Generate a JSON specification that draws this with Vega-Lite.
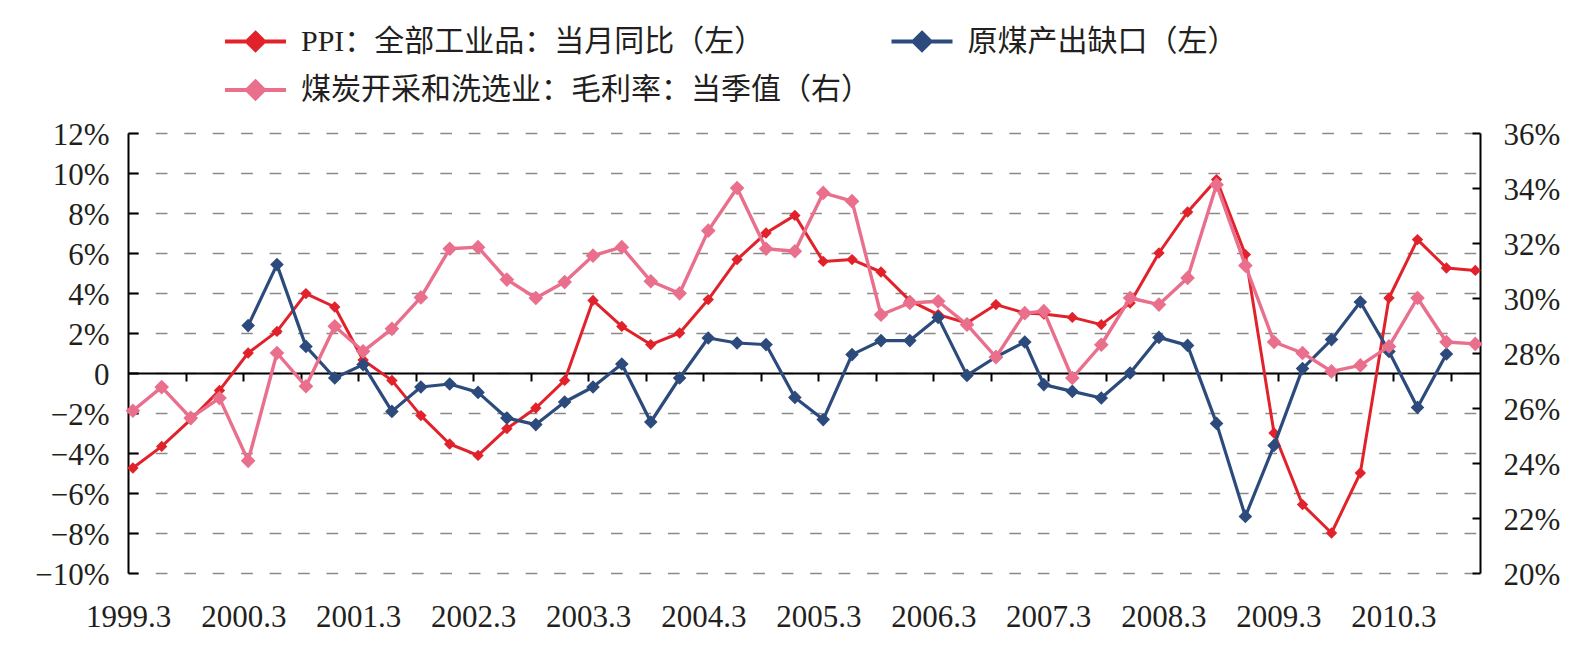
{
  "$schema": "https://vega.github.io/schema/vega-lite/v6.json",
  "width": 1352,
  "height": 440,
  "autosize": {"type": "none"},
  "padding": {"left": 128, "top": 133, "right": 106, "bottom": 78},
  "background": "white",
  "config": {
    "view": {"stroke": null},
    "font": "Liberation Serif",
    "axis": {"labelFont": "Liberation Serif", "labelFontSize": 31, "labelColor": "#231f20", "title": null, "labelOverlap": false}
  },
  "data": {
    "values": [
      {"date": "1999-03", "ppi": -0.0475, "margin": 0.2590},
      {"date": "1999-06", "ppi": -0.0367, "margin": 0.2676},
      {"date": "1999-09", "ppi": -0.0233, "margin": 0.2564},
      {"date": "1999-12", "ppi": -0.0087, "margin": 0.2636},
      {"date": "2000-03", "ppi": 0.0100, "gap": 0.0237, "margin": 0.2408},
      {"date": "2000-06", "ppi": 0.0208, "gap": 0.0542, "margin": 0.2800},
      {"date": "2000-09", "ppi": 0.0397, "gap": 0.0133, "margin": 0.2679},
      {"date": "2000-12", "ppi": 0.0330, "gap": -0.0025, "margin": 0.2897},
      {"date": "2001-03", "ppi": 0.0065, "gap": 0.0042, "margin": 0.2806},
      {"date": "2001-06", "ppi": -0.0037, "gap": -0.0192, "margin": 0.2888},
      {"date": "2001-09", "ppi": -0.0213, "gap": -0.0070, "margin": 0.3002},
      {"date": "2001-12", "ppi": -0.0355, "gap": -0.0055, "margin": 0.3179},
      {"date": "2002-03", "ppi": -0.0412, "gap": -0.0097, "margin": 0.3185},
      {"date": "2002-06", "ppi": -0.0278, "gap": -0.0225, "margin": 0.3067},
      {"date": "2002-09", "ppi": -0.0175, "gap": -0.0258, "margin": 0.3000},
      {"date": "2002-12", "ppi": -0.0037, "gap": -0.0145, "margin": 0.3058},
      {"date": "2003-03", "ppi": 0.0363, "gap": -0.0070, "margin": 0.3154},
      {"date": "2003-06", "ppi": 0.0233, "gap": 0.0045, "margin": 0.3185},
      {"date": "2003-09", "ppi": 0.0142, "gap": -0.0245, "margin": 0.3061},
      {"date": "2003-12", "ppi": 0.0200, "gap": -0.0025, "margin": 0.3017},
      {"date": "2004-03", "ppi": 0.0367, "gap": 0.0175, "margin": 0.3245},
      {"date": "2004-06", "ppi": 0.0567, "gap": 0.0150, "margin": 0.3400},
      {"date": "2004-09", "ppi": 0.0700, "gap": 0.0142, "margin": 0.3179},
      {"date": "2004-12", "ppi": 0.0788, "gap": -0.0122, "margin": 0.3170},
      {"date": "2005-03", "ppi": 0.0558, "gap": -0.0233, "margin": 0.3382},
      {"date": "2005-06", "ppi": 0.0567, "gap": 0.0092, "margin": 0.3352},
      {"date": "2005-09", "ppi": 0.0505, "gap": 0.0162, "margin": 0.2939},
      {"date": "2005-12", "ppi": 0.0362, "gap": 0.0162, "margin": 0.2982},
      {"date": "2006-03", "ppi": 0.0292, "gap": 0.0278, "margin": 0.2988},
      {"date": "2006-06", "ppi": 0.0250, "gap": -0.0012, "margin": 0.2903},
      {"date": "2006-09", "ppi": 0.0342, "gap": 0.0080, "margin": 0.2785},
      {"date": "2006-12", "ppi": 0.0300, "gap": 0.0155, "margin": 0.2945},
      {"date": "2007-02", "ppi": 0.0295, "gap": -0.0058, "margin": 0.2952},
      {"date": "2007-05", "ppi": 0.0278, "gap": -0.0092, "margin": 0.2709},
      {"date": "2007-08", "ppi": 0.0242, "gap": -0.0125, "margin": 0.2830},
      {"date": "2007-11", "ppi": 0.0350, "gap": 0.0000, "margin": 0.3000},
      {"date": "2008-02", "ppi": 0.0600, "gap": 0.0178, "margin": 0.2976},
      {"date": "2008-05", "ppi": 0.0805, "gap": 0.0138, "margin": 0.3073},
      {"date": "2008-08", "ppi": 0.0967, "gap": -0.0252, "margin": 0.3412},
      {"date": "2008-11", "ppi": 0.0592, "gap": -0.0717, "margin": 0.3118},
      {"date": "2009-02", "ppi": -0.0300, "gap": -0.0362, "margin": 0.2840},
      {"date": "2009-05", "ppi": -0.0658, "gap": 0.0022, "margin": 0.2800},
      {"date": "2009-08", "ppi": -0.0800, "gap": 0.0167, "margin": 0.2733},
      {"date": "2009-11", "ppi": -0.0500, "gap": 0.0355, "margin": 0.2755},
      {"date": "2010-02", "ppi": 0.0375, "gap": 0.0108, "margin": 0.2824},
      {"date": "2010-05", "ppi": 0.0667, "gap": -0.0172, "margin": 0.3000},
      {"date": "2010-08", "ppi": 0.0525, "gap": 0.0095, "margin": 0.2840},
      {"date": "2010-11", "ppi": 0.0513, "margin": 0.2833}
    ]
  },
  "layer": [
    {
      "encoding": {
        "x": {
          "field": "date",
          "type": "temporal",
          "timeUnit": "utcyearmonth",
          "bandPosition": 0.5,
          "scale": {
            "domain": [
              {"year": 1999, "month": 3, "date": 1, "utc": true},
              {"year": 2010, "month": 12, "date": 1, "utc": true}
            ],
            "nice": false
          },
          "axis": {
            "orient": "bottom",
            "domain": false,
            "ticks": false,
            "grid": false,
            "labelFlush": false,
            "labelPadding": 29.5,
            "labelDx": -7.5,
            "labelExpr": "utcFormat(datum.value, '%Y.%-m')",
            "values": [
              {"year": 1999, "month": 3, "date": 1, "utc": true},
              {"year": 2000, "month": 3, "date": 1, "utc": true},
              {"year": 2001, "month": 3, "date": 1, "utc": true},
              {"year": 2002, "month": 3, "date": 1, "utc": true},
              {"year": 2003, "month": 3, "date": 1, "utc": true},
              {"year": 2004, "month": 3, "date": 1, "utc": true},
              {"year": 2005, "month": 3, "date": 1, "utc": true},
              {"year": 2006, "month": 3, "date": 1, "utc": true},
              {"year": 2007, "month": 3, "date": 1, "utc": true},
              {"year": 2008, "month": 3, "date": 1, "utc": true},
              {"year": 2009, "month": 3, "date": 1, "utc": true},
              {"year": 2010, "month": 3, "date": 1, "utc": true}
            ]
          }
        },
        "y": {
          "type": "quantitative",
          "scale": {"domain": [-0.1, 0.12], "nice": false, "zero": false},
          "axis": {
            "orient": "left",
            "values": [-0.1, -0.08, -0.06, -0.04, -0.02, 0, 0.02, 0.04, 0.06, 0.08, 0.1, 0.12],
            "labelExpr": "abs(datum.value) < 1e-9 ? '0' : format(datum.value, '.0%')",
            "domain": true,
            "domainColor": "#000000",
            "domainWidth": 2,
            "ticks": true,
            "tickSize": -10,
            "tickWidth": 2,
            "tickColor": "#000000",
            "labelPadding": 29,
            "labelOffset": 2,
            "grid": true,
            "gridColor": "#8a8a8a",
            "gridWidth": 1.5,
            "gridDash": [11.7, 16.75],
            "gridDashOffset": 1.15
          }
        }
      },
      "layer": [
        {
          "mark": {"type": "line", "strokeWidth": 3, "strokeJoin": "round", "point": {"shape": "diamond", "filled": true, "size": 130, "opacity": 1}},
          "encoding": {
            "y": {"field": "ppi"},
            "color": {
              "datum": "PPI：全部工业品：当月同比（左）",
              "type": "nominal",
              "scale": {
                "domain": ["PPI：全部工业品：当月同比（左）", "原煤产出缺口（左）", "煤炭开采和洗选业：毛利率：当季值（右）"],
                "range": ["#e1222b", "#2c4b7c", "#e96f8d"]
              },
              "legend": {
                "orient": "none",
                "legendX": 95,
                "legendY": -106.5,
                "direction": "horizontal",
                "columns": 2,
                "title": null,
                "padding": 0,
                "symbolType": "M-1,0L1,0M0,-0.28L0.28,0L0,0.28L-0.28,0Z",
                "symbolSize": 3721,
                "symbolStrokeWidth": 4,
                "clipHeight": 30,
                "labelFont": "Liberation Serif, Noto Sans CJK SC",
                "labelFontSize": 30,
                "labelColor": "#231f20",
                "labelOffset": 13,
                "labelLimit": 1000,
                "rowPadding": 18.5,
                "columnPadding": 18.5,
                "encode": {
                  "symbols": {
                    "update": {
                      "fill": {"scale": "color", "field": "value"},
                      "stroke": {"scale": "color", "field": "value"},
                      "opacity": {"value": 1}
                    }
                  }
                }
              }
            }
          }
        },
        {
          "mark": {"type": "line", "strokeWidth": 3.2, "strokeJoin": "round", "point": {"shape": "diamond", "filled": true, "size": 185, "opacity": 1}},
          "encoding": {
            "y": {"field": "gap"},
            "color": {"datum": "原煤产出缺口（左）", "type": "nominal"}
          }
        }
      ]
    },
    {
      "mark": {"type": "line", "strokeWidth": 3.4, "strokeJoin": "round", "point": {"shape": "diamond", "filled": true, "size": 215, "opacity": 1}},
      "encoding": {
        "x": {
          "field": "date",
          "type": "temporal",
          "timeUnit": "utcyearmonth",
          "bandPosition": 0.5,
          "scale": {
            "domain": [
              {"year": 1999, "month": 3, "date": 1, "utc": true},
              {"year": 2010, "month": 12, "date": 1, "utc": true}
            ],
            "nice": false
          },
          "axis": {
            "orient": "bottom",
            "offset": -200,
            "labels": false,
            "grid": false,
            "domain": true,
            "domainColor": "#000000",
            "domainWidth": 2,
            "ticks": true,
            "tickSize": 8,
            "tickWidth": 2,
            "tickColor": "#000000",
            "values": [
              {"year": 1999, "month": 9, "date": 1, "utc": true},
              {"year": 2000, "month": 3, "date": 1, "utc": true},
              {"year": 2000, "month": 9, "date": 1, "utc": true},
              {"year": 2001, "month": 3, "date": 1, "utc": true},
              {"year": 2001, "month": 9, "date": 1, "utc": true},
              {"year": 2002, "month": 3, "date": 1, "utc": true},
              {"year": 2002, "month": 9, "date": 1, "utc": true},
              {"year": 2003, "month": 3, "date": 1, "utc": true},
              {"year": 2003, "month": 9, "date": 1, "utc": true},
              {"year": 2004, "month": 3, "date": 1, "utc": true},
              {"year": 2004, "month": 9, "date": 1, "utc": true},
              {"year": 2005, "month": 3, "date": 1, "utc": true},
              {"year": 2005, "month": 9, "date": 1, "utc": true},
              {"year": 2006, "month": 3, "date": 1, "utc": true},
              {"year": 2006, "month": 9, "date": 1, "utc": true},
              {"year": 2007, "month": 3, "date": 1, "utc": true},
              {"year": 2007, "month": 9, "date": 1, "utc": true},
              {"year": 2008, "month": 3, "date": 1, "utc": true},
              {"year": 2008, "month": 9, "date": 1, "utc": true},
              {"year": 2009, "month": 3, "date": 1, "utc": true},
              {"year": 2009, "month": 9, "date": 1, "utc": true},
              {"year": 2010, "month": 3, "date": 1, "utc": true},
              {"year": 2010, "month": 9, "date": 1, "utc": true}
            ]
          }
        },
        "y": {
          "field": "margin",
          "type": "quantitative",
          "scale": {"domain": [0.2, 0.36], "nice": false, "zero": false},
          "axis": {
            "orient": "right",
            "values": [0.2, 0.22, 0.24, 0.26, 0.28, 0.3, 0.32, 0.34, 0.36],
            "format": ".0%",
            "domain": true,
            "domainColor": "#000000",
            "domainWidth": 2,
            "ticks": true,
            "tickSize": -8,
            "tickWidth": 2,
            "tickColor": "#000000",
            "labelPadding": 31,
            "labelOffset": 2,
            "grid": false
          }
        },
        "color": {"datum": "煤炭开采和洗选业：毛利率：当季值（右）", "type": "nominal"}
      }
    }
  ],
  "resolve": {"scale": {"y": "independent"}, "axis": {"x": "independent"}}
}
